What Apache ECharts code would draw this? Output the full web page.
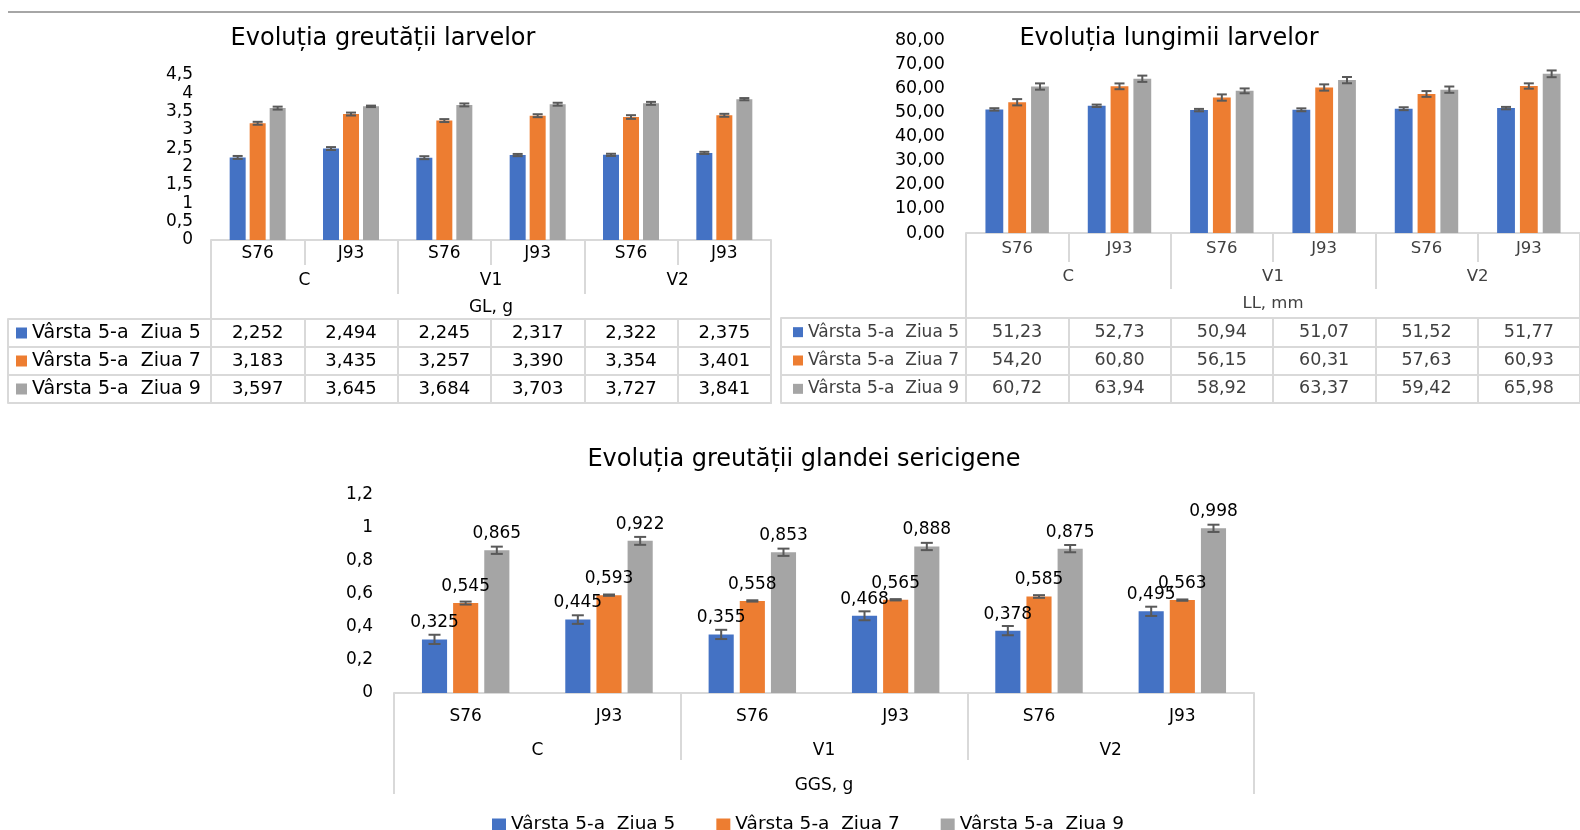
<!DOCTYPE html>
<html><head><meta charset="utf-8">
<script src="https://cdn.jsdelivr.net/npm/echarts@6/dist/echarts.min.js"></script>
<style>html,body{margin:0;padding:0;background:#fff}#c{width:1580px;height:830px}</style>
</head><body><div id="c"></div>
<script>
// ---------- data ----------
const categories = ['S76', 'J93', 'S76', 'J93', 'S76', 'J93'];
const groups = ['C', 'V1', 'V2'];
const seriesNames = ['Vârsta 5-a  Ziua 5', 'Vârsta 5-a  Ziua 7', 'Vârsta 5-a  Ziua 9'];

const glTitle = 'Evoluția greutății larvelor';
const glMeasure = 'GL, g';
const glZiua5 = [2.252, 2.494, 2.245, 2.317, 2.322, 2.375];
const glZiua7 = [3.183, 3.435, 3.257, 3.390, 3.354, 3.401];
const glZiua9 = [3.597, 3.645, 3.684, 3.703, 3.727, 3.841];
const glErr5 = [0.04, 0.04, 0.04, 0.03, 0.03, 0.03];
const glErr7 = [0.04, 0.04, 0.04, 0.04, 0.05, 0.04];
const glErr9 = [0.04, 0.02, 0.04, 0.04, 0.04, 0.03];

const llTitle = 'Evoluția lungimii larvelor';
const llMeasure = 'LL, mm';
const llZiua5 = [51.23, 52.73, 50.94, 51.07, 51.52, 51.77];
const llZiua7 = [54.20, 60.80, 56.15, 60.31, 57.63, 60.93];
const llZiua9 = [60.72, 63.94, 58.92, 63.37, 59.42, 65.98];
const llErr5 = [0.5, 0.5, 0.5, 0.6, 0.6, 0.5];
const llErr7 = [1.3, 1.2, 1.3, 1.3, 1.2, 1.1];
const llErr9 = [1.3, 1.3, 1.0, 1.3, 1.3, 1.4];

const ggsTitle = 'Evoluția greutății glandei sericigene';
const ggsMeasure = 'GGS, g';
const ggsZiua5 = [0.325, 0.445, 0.355, 0.468, 0.378, 0.495];
const ggsZiua7 = [0.545, 0.593, 0.558, 0.565, 0.585, 0.563];
const ggsZiua9 = [0.865, 0.922, 0.853, 0.888, 0.875, 0.998];
const ggsErr5 = [0.028, 0.026, 0.028, 0.027, 0.028, 0.028];
const ggsErr7 = [0.009, 0.004, 0.004, 0.004, 0.008, 0.004];
const ggsErr9 = [0.022, 0.024, 0.022, 0.022, 0.022, 0.022];

// ---------- styles ----------
const FONT = 'DejaVu Sans';
const COLORS = ['#4472C4', '#ED7D31', '#A5A5A5'];
const LINE = '#D9D9D9';
const lineStyle = { color: LINE, width: 2 };
const comma = s => s.replace('.', ',');

const option = {
  animation: false,
  textStyle: { fontFamily: FONT, color: '#000' },
  title: [], grid: [], xAxis: [], yAxis: [], series: [],
  legend: {
    data: seriesNames, left: 487, top: 810, icon: 'rect', itemWidth: 14, itemHeight: 12,
    itemGap: 41, textStyle: { fontFamily: FONT, fontSize: 18.5, color: '#000' }, selectedMode: false
  },
  graphic: [{ type: 'line', shape: { x1: 8, y1: 12, x2: 1580, y2: 12 }, style: { stroke: '#A6A6A6', lineWidth: 2 } }]
};

function errorSeries(xIdx, yIdx, k, vals, errs, catGap, barGap, cap) {
  return {
    type: 'custom', xAxisIndex: xIdx, yAxisIndex: yIdx, z: 10, silent: true,
    data: vals.map((v, i) => [i, v, errs[i]]),
    renderItem: function (params, api) {
      const c = api.value(0), v = api.value(1), e = api.value(2);
      const band = api.size([1, 0])[0];
      const bw = band * (1 - catGap) / (3 + 2 * barGap);
      const total = bw * (3 + 2 * barGap);
      const cx = api.coord([c, v])[0] - total / 2 + k * bw * (1 + barGap) + bw / 2;
      const yt = api.coord([c, v + e])[1];
      const yb = api.coord([c, v - e])[1];
      const st = { stroke: '#595959', lineWidth: 2 };
      return {
        type: 'group', children: [
          { type: 'line', shape: { x1: cx, y1: yt, x2: cx, y2: yb }, style: st },
          { type: 'line', shape: { x1: cx - cap, y1: yt, x2: cx + cap, y2: yt }, style: st },
          { type: 'line', shape: { x1: cx - cap, y1: yb, x2: cx + cap, y2: yb }, style: st }
        ]
      };
    }
  };
}

function addPanel(p) {
  option.title.push({
    text: p.title, left: p.titleX, top: p.titleY, textAlign: 'center', padding: 0,
    textStyle: { fontFamily: FONT, fontSize: 24, fontWeight: 'normal', color: '#000' }
  });
  const g0 = option.grid.length;
  option.grid.push({ left: p.left, top: p.top, width: p.width, height: p.height });
  const xCat = option.xAxis.length;
  const hdr = { fontSize: p.hdrFont, color: p.hdrColor };
  option.xAxis.push({
    gridIndex: g0, type: 'category', position: 'bottom', data: categories,
    axisLine: { show: true, lineStyle },
    axisTick: { show: p.catTicks > 0, interval: 0, length: p.catTicks, lineStyle },
    axisLabel: Object.assign({ interval: 0, margin: p.catMargin }, hdr)
  });
  option.xAxis.push({
    gridIndex: g0, type: 'category', position: 'bottom', data: groups,
    axisLine: { show: false },
    axisTick: { show: true, interval: 0, length: p.grpTicks, lineStyle },
    axisLabel: Object.assign({ interval: 0, margin: p.grpMargin }, hdr)
  });
  option.xAxis.push({
    gridIndex: g0, type: 'category', position: 'bottom', data: [p.measure],
    axisLine: { show: false },
    axisTick: { show: true, interval: 0, length: p.mTicks, lineStyle },
    axisLabel: Object.assign({ interval: 0, margin: p.mMargin }, hdr)
  });
  const yV = option.yAxis.length;
  option.yAxis.push({
    gridIndex: g0, type: 'value', min: 0, max: p.max, interval: p.interval,
    axisLine: { show: false }, axisTick: { show: false }, splitLine: { show: false },
    axisLabel: { margin: p.yMargin, fontSize: p.yFont, color: '#000', formatter: p.yFmt }
  });
  p.values.forEach((vals, k) => {
    option.series.push({
      type: 'bar', name: seriesNames[k], xAxisIndex: xCat, yAxisIndex: yV, data: vals,
      barCategoryGap: (p.catGap * 100) + '%', barGap: (p.barGap * 100) + '%',
      itemStyle: { color: COLORS[k] },
      label: p.barLabels ? {
        show: true, position: 'top', distance: 8, fontSize: 17, color: '#000', fontFamily: FONT,
        formatter: q => comma(q.value.toFixed(3))
      } : { show: false }
    });
  });
  p.values.forEach((vals, k) => {
    option.series.push(errorSeries(xCat, yV, k, vals, p.errors[k], p.catGap, p.barGap, p.cap));
  });

  if (p.table) {
    const g1 = option.grid.length;
    option.grid.push({ left: p.left, top: p.tTop, width: p.width, height: p.tHeight });
    const xT = option.xAxis.length;
    option.xAxis.push({
      gridIndex: g1, type: 'category', position: 'bottom', data: categories,
      axisLine: { show: true, lineStyle }, axisTick: { show: false }, axisLabel: { show: false },
      splitLine: { show: true, interval: 0, lineStyle }
    });
    const yT = option.yAxis.length;
    const rich = { t: { fontSize: p.lblFont, color: p.tColor, fontFamily: FONT, padding: [0, 0, 0, 5] } };
    COLORS.forEach((c, i) => { rich['s' + i] = { width: p.sq, height: p.sq, backgroundColor: c }; });
    option.yAxis.push({
      gridIndex: g1, type: 'category', position: 'left', inverse: true, data: seriesNames,
      axisLine: { show: true, lineStyle },
      axisTick: { show: true, interval: 0, length: p.labelCol, lineStyle },
      splitLine: { show: true, interval: 0, lineStyle },
      axisLabel: {
        interval: 0, align: 'left', margin: p.labelMargin,
        formatter: (v, i) => '{s' + i + '|}{t|' + v + '}', rich
      }
    });
    option.yAxis.push({
      gridIndex: g1, type: 'category', position: 'left', offset: p.labelCol, inverse: true, data: seriesNames,
      axisLine: { show: true, lineStyle }, axisTick: { show: false }, axisLabel: { show: false }
    });
    option.yAxis.push({
      gridIndex: g1, type: 'category', position: 'right', inverse: true, data: seriesNames,
      axisLine: { show: true, lineStyle }, axisTick: { show: false }, axisLabel: { show: false }
    });
    p.values.forEach((vals, k) => {
      option.series.push({
        type: 'custom', xAxisIndex: xT, yAxisIndex: yT, silent: true,
        data: vals.map((v, i) => [i, k, v]),
        renderItem: function (params, api) {
          const pt = api.coord([api.value(0), api.value(1)]);
          return {
            type: 'text', x: pt[0], y: pt[1],
            style: {
              text: comma(api.value(2).toFixed(p.decimals)), align: 'center', verticalAlign: 'middle',
              fontSize: p.valFont, fontFamily: FONT, fill: p.tColor
            }
          };
        }
      });
    });
  }
}

addPanel({
  title: glTitle, titleX: 383, titleY: 27, measure: glMeasure,
  left: 211, top: 75, width: 560, height: 165, max: 4.5, interval: 0.5,
  yMargin: 18, yFont: 17, yFmt: v => comma(String(v)),
  catTicks: 25, catMargin: 5, grpTicks: 54, grpMargin: 32, mTicks: 79, mMargin: 59,
  hdrFont: 17, hdrColor: '#000',
  values: [glZiua5, glZiua7, glZiua9], errors: [glErr5, glErr7, glErr9],
  catGap: 0.40, barGap: 0.25, cap: 5,
  table: true, tTop: 319, tHeight: 84, labelCol: 203, labelMargin: 195, sq: 11,
  lblFont: 19, valFont: 18, tColor: '#000', decimals: 3
});

addPanel({
  title: llTitle, titleX: 1169, titleY: 27, measure: llMeasure,
  left: 966, top: 40, width: 618, height: 193, max: 80, interval: 10,
  yMargin: 21, yFont: 17.5, yFmt: v => comma(v.toFixed(2)),
  catTicks: 29, catMargin: 7, grpTicks: 56, grpMargin: 35, mTicks: 85, mMargin: 62,
  hdrFont: 16.5, hdrColor: '#404040',
  values: [llZiua5, llZiua7, llZiua9], errors: [llErr5, llErr7, llErr9],
  catGap: 0.38, barGap: 0.28, cap: 5,
  table: true, tTop: 318, tHeight: 85, labelCol: 185, labelMargin: 173, sq: 10,
  lblFont: 17, valFont: 17.5, tColor: '#404040', decimals: 2
});

addPanel({
  title: ggsTitle, titleX: 804, titleY: 448, measure: ggsMeasure,
  left: 394, top: 495, width: 860, height: 198, max: 1.2, interval: 0.2,
  yMargin: 21, yFont: 17, yFmt: v => comma(String(+v.toFixed(2))),
  catTicks: 0, catMargin: 15, grpTicks: 67, grpMargin: 49, mTicks: 101, mMargin: 84,
  hdrFont: 17, hdrColor: '#000',
  values: [ggsZiua5, ggsZiua7, ggsZiua9], errors: [ggsErr5, ggsErr7, ggsErr9],
  catGap: 0.39, barGap: 0.24, cap: 6, barLabels: true,
  table: false
});

const chart = echarts.init(document.getElementById('c'), null, { renderer: 'canvas' });
chart.setOption(option);
</script>
</body></html>
